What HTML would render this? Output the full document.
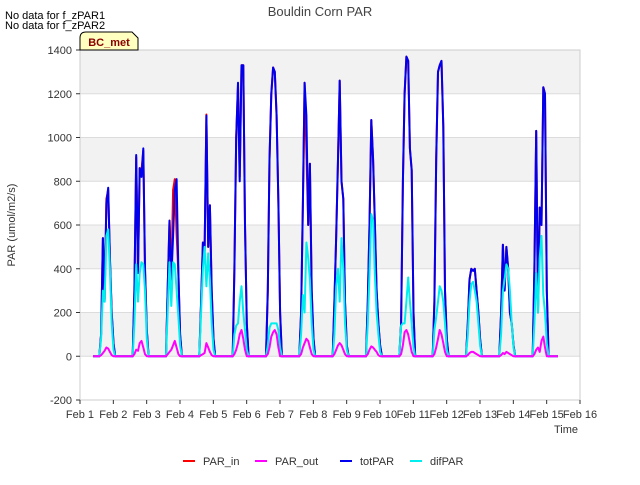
<!DOCTYPE html>
<html><head><meta charset="utf-8"><style>
body{margin:0;background:#fff;font-family:"Liberation Sans",sans-serif;}
svg text{font-family:"Liberation Sans",sans-serif;}
</style></head><body>
<svg id="chart" width="640" height="480">
<g id="bands"></g>
<g id="grid"></g>
<rect x="80" y="50" width="500" height="350" fill="none" stroke="#ccc"/>
<g id="series"></g>
<g id="axes"></g>
<text x="320" y="16" text-anchor="middle" font-size="13" fill="#444">Bouldin Corn PAR</text>
<text x="5" y="19" font-size="11" fill="#000">No data for f_zPAR1</text>
<text x="5" y="29" font-size="11" fill="#000">No data for f_zPAR2</text>
<g>
<path d="M80,50 L80,38 Q80,32 86,32 L132,32 L138,38 L138,50 Z" fill="#ffffc0" stroke="#000"/>
<text x="109" y="46" text-anchor="middle" font-size="11" font-weight="bold" fill="#8b0000">BC_met</text>
</g>
<text x="15" y="225" font-size="11" fill="#333" transform="rotate(-90 15 225)" text-anchor="middle">PAR (umol/m2/s)</text>
<text x="578" y="433" font-size="11" fill="#333" text-anchor="end">Time</text>
<g id="legend"></g>
</svg>
<script>
const yTicks=[-200,0,200,400,600,800,1000,1200,1400];
const xTickLabels=["Feb 1","Feb 2","Feb 3","Feb 4","Feb 5","Feb 6","Feb 7","Feb 8","Feb 9","Feb 10","Feb 11","Feb 12","Feb 13","Feb 14","Feb 15","Feb 16"];
const seriesNames=["PAR_in","PAR_out","totPAR","difPAR"];
const totPAR=[
[0,100,540,250,700,770,450,200,60,0],
[0,300,920,380,860,820,950,400,120,0],
[0,330,620,350,550,760,810,380,100,0],
[0,250,520,480,1100,500,690,300,80,0],
[0,400,1000,1250,800,1330,1330,600,150,0],
[0,300,900,1200,1320,1300,1100,700,200,0],
[0,200,700,1250,1100,600,880,300,80,0],
[0,250,550,900,1260,800,720,250,50,0],
[0,250,600,1080,900,620,300,150,50,0],
[0,150,800,1200,1370,1350,950,850,200,0],
[0,250,900,1300,1330,1350,1050,300,80,0],
[0,150,350,400,390,400,300,200,80,0],
[0,200,510,300,500,400,200,150,50,0],
[0,400,1030,200,680,600,1230,1200,300,0]];
const parIn=[
[0,100,540,260,720,760,450,200,60,0],
[0,300,910,390,860,850,940,400,120,0],
[0,330,620,360,760,810,560,380,100,0],
[0,250,520,480,1105,500,690,300,80,0],
[0,400,1000,1240,820,1330,1330,600,150,0],
[0,300,900,1200,1320,1300,1100,700,200,0],
[0,200,700,1250,940,600,880,300,80,0],
[0,250,550,900,1260,800,720,250,50,0],
[0,250,600,1080,900,620,300,150,50,0],
[0,150,800,1200,1370,1350,950,850,200,0],
[0,250,900,1300,1330,1350,1050,300,80,0],
[0,150,350,400,390,400,300,200,80,0],
[0,200,510,300,500,400,200,150,50,0],
[0,400,1030,200,680,600,1230,1200,300,0]];
const difPAR=[
[0,80,300,250,550,580,400,150,30,0],
[0,150,420,250,380,430,420,300,80,0],
[0,220,430,230,430,420,300,180,50,0],
[0,200,400,500,320,470,350,150,30,0],
[0,100,140,150,250,320,200,120,30,0],
[0,50,130,150,150,150,150,120,40,0],
[0,100,280,200,520,450,350,150,30,0],
[0,100,320,400,250,540,400,150,30,0],
[0,150,380,650,620,380,200,100,20,0],
[0,140,150,150,250,360,250,150,40,0],
[0,120,180,250,320,300,250,150,30,0],
[0,100,250,330,340,300,250,150,50,0],
[0,100,300,350,420,400,300,150,40,0],
[0,150,380,200,450,550,280,200,60,0]];
const parOut=[
[0,5,15,25,40,35,20,5,0,0],
[0,10,30,25,60,70,40,10,0,0],
[0,10,20,30,50,70,40,10,0,0],
[0,5,10,15,60,40,20,5,0,0],
[0,10,30,60,100,120,80,30,0,0],
[0,10,40,90,110,120,100,40,0,0],
[0,10,40,60,80,70,40,10,0,0],
[0,10,30,50,60,50,30,10,0,0],
[0,10,30,45,40,30,20,5,0,0],
[0,10,50,110,120,100,60,20,0,0],
[0,10,40,80,120,100,60,20,0,0],
[0,5,15,20,20,15,10,5,0,0],
[0,5,15,10,20,15,10,5,0,0],
[0,10,30,40,20,70,90,40,0,0]];
const tStart=0.39, tEnd=14.34;
const NS="http://www.w3.org/2000/svg";
const X0=80,X1=580,Y0=400,Y1=50;
function xs(t){return X0+(t/15)*(X1-X0);}
function ys(v){return Y0-(v+200)/1600*(Y0-Y1);}
function mk(tag,attrs,parent){const e=document.createElementNS(NS,tag);for(const k in attrs)e.setAttribute(k,attrs[k]);parent.appendChild(e);return e;}
const bands=document.getElementById('bands'),grid=document.getElementById('grid'),axes=document.getElementById('axes');
for(let i=0;i<yTicks.length-1;i++){
  const a=yTicks[i],b=yTicks[i+1];
  const r=mk('rect',{x:X0,y:ys(b),width:X1-X0,height:ys(a)-ys(b),fill:(i%2===1)?'#f2f2f2':'#ffffff'},bands);
  
  
}
yTicks.forEach(v=>{
  const l=mk('line',{x1:X0,x2:X1,y1:ys(v),y2:ys(v),stroke:'#dcdcdc'},grid);
  
  
  const tk=mk('line',{x1:X0-4,x2:X0,y1:ys(v),y2:ys(v),stroke:'#333'},axes);
  
  
  const t=mk('text',{x:X0-8,y:ys(v)+4,'text-anchor':'end','font-size':11,fill:'#333'},axes);
  t.textContent=v;
  
  
});
xTickLabels.forEach((lab,i)=>{
  const tk=mk('line',{x1:xs(i),x2:xs(i),y1:Y0,y2:Y0+4,stroke:'#333'},axes);
  
  
  const t=mk('text',{x:xs(i),y:Y0+18,'text-anchor':'middle','font-size':11,fill:'#333'},axes);
  t.textContent=lab;
  
  
});
function pts(days){
  const p=[[tStart,0]];
  days.forEach((vals,i)=>{vals.forEach((v,k)=>{p.push([i+0.58+k*0.053,v]);});});
  p.push([tEnd,0]);
  return p.map(q=>xs(q[0]).toFixed(1)+','+ys(q[1]).toFixed(1)).join(' ');
}
const sg=document.getElementById('series');
const defs=[[parIn,'#ff0000','par-in-line'],[totPAR,'#0000ee','totpar-line'],[difPAR,'#00eeee','difpar-line'],[parOut,'#ff00ff','par-out-line']];
defs.forEach(d=>{
  const pl=mk('polyline',{points:pts(d[0]),fill:'none',stroke:d[1],'stroke-width':2,'stroke-linejoin':'round'},sg);
  
  
});
const lg=document.getElementById('legend');
const legColors=['#ff0000','#ff00ff','#0000ee','#00eeee'];
const legX=[183,255,340,410];
seriesNames.forEach((n,i)=>{
  const g=mk('g',{},lg);
  
  
  mk('line',{x1:legX[i],x2:legX[i]+12,y1:461,y2:461,stroke:legColors[i],'stroke-width':2},g);
  const t=mk('text',{x:legX[i]+20,y:465,'font-size':11,fill:'#333'},g);
  t.textContent=n;
});
</script>
</body></html>
